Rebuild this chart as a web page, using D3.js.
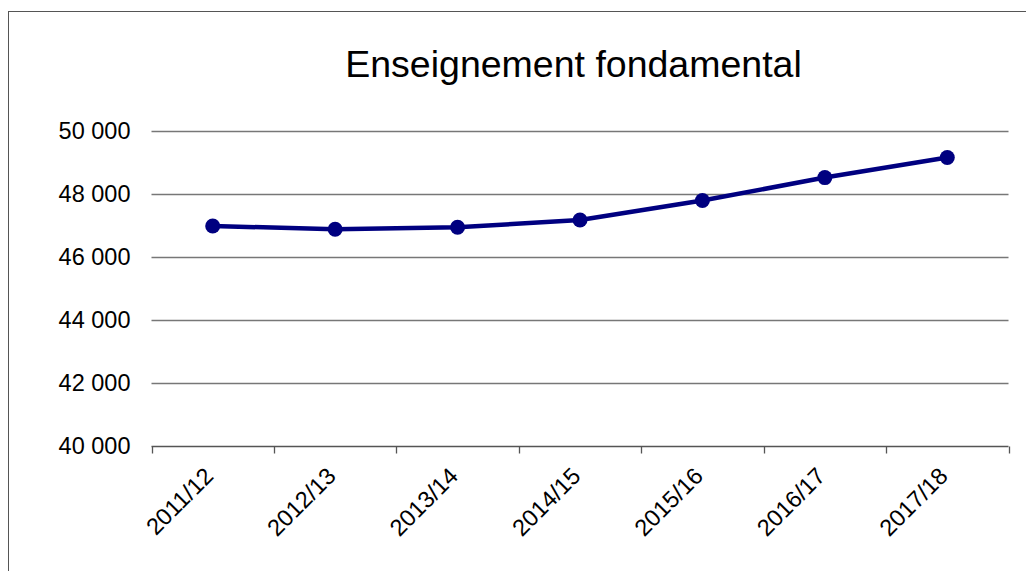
<!DOCTYPE html>
<html>
<head>
<meta charset="utf-8">
<script src="https://cdn.jsdelivr.net/npm/d3@7"></script>
<style>
  html, body { margin: 0; padding: 0; background: #fff; }
  svg { display: block; }
  text { font-family: "Liberation Sans", Arial, sans-serif; fill: #000; }
</style>
</head>
<body>
<svg id="chart" width="1026" height="571"></svg>
<script>
const categories = ["2011/12", "2012/13", "2013/14", "2014/15", "2015/16", "2016/17", "2017/18"];
const values = [46980, 46880, 46940, 47170, 47790, 48520, 49160];
const yTicks = [40000, 42000, 44000, 46000, 48000, 50000];
const title = "Enseignement fondamental";

const svg = d3.select("#chart");
const W = 1026, H = 571;
const plot = { left: 151.5, right: 1008.5, top: 131, bottom: 445.7 };

svg.append("rect").attr("x", 8.5).attr("y", 11.5).attr("width", W + 10).attr("height", H + 10)
  .attr("fill", "#fff").attr("stroke", "#555").attr("stroke-width", 1);

const x = d3.scaleBand().domain(categories).range([plot.left, plot.right]).padding(0);
const y = d3.scaleLinear().domain([40000, 50000]).range([plot.bottom, plot.top]);

const fmt = d => d3.format(",")(d).replace(/,/g, " ");

// gridlines
svg.append("g").selectAll("line").data(yTicks.filter(d => d !== 40000)).join("line")
  .attr("x1", plot.left).attr("x2", plot.right)
  .attr("y1", d => Math.round(y(d)) + 0.5).attr("y2", d => Math.round(y(d)) + 0.5)
  .attr("stroke", "#777").attr("stroke-width", 1.3);

// y labels
svg.append("g").selectAll("text").data(yTicks).join("text")
  .attr("x", 130.5).attr("y", d => y(d)).attr("dy", "0.36em")
  .attr("text-anchor", "end").attr("font-size", 23.5).text(fmt);

// x axis
const xAxisY = Math.round(plot.bottom) + 0.5;
const gx = svg.append("g").attr("transform", `translate(0,${xAxisY})`);
gx.append("line").attr("x1", plot.left).attr("x2", plot.right).attr("stroke", "#555").attr("stroke-width", 1.3);
const bounds = categories.map(c => x(c)).concat([plot.right]);
gx.selectAll("line.tick").data(bounds).join("line").attr("class", "tick")
  .attr("x1", d => Math.round(d) + 0.5).attr("x2", d => Math.round(d) + 0.5)
  .attr("y1", 0).attr("y2", 7).attr("stroke", "#555").attr("stroke-width", 1.3);

svg.append("g").selectAll("text").data(categories).join("text")
  .attr("transform", d => `translate(${x(d) + x.bandwidth() / 2 + 2},${477.5}) rotate(-45)`)
  .attr("text-anchor", "end").attr("font-size", 23.5).text(d => d);

// title
svg.append("text").attr("x", 573.5).attr("y", 77).attr("text-anchor", "middle")
  .attr("font-size", 37.5).text(title);

// line
const cx = d => x(d) + x.bandwidth() / 2;
const data = categories.map((c, i) => ({ c, v: values[i] }));
svg.append("path").datum(data)
  .attr("d", d3.line().x(d => cx(d.c)).y(d => y(d.v)))
  .attr("fill", "none").attr("stroke", "#000080").attr("stroke-width", 4.5).attr("stroke-linejoin", "round");
svg.append("g").selectAll("circle").data(data).join("circle")
  .attr("cx", d => cx(d.c)).attr("cy", d => y(d.v)).attr("r", 7.5).attr("fill", "#000080");
</script>
</body>
</html>
